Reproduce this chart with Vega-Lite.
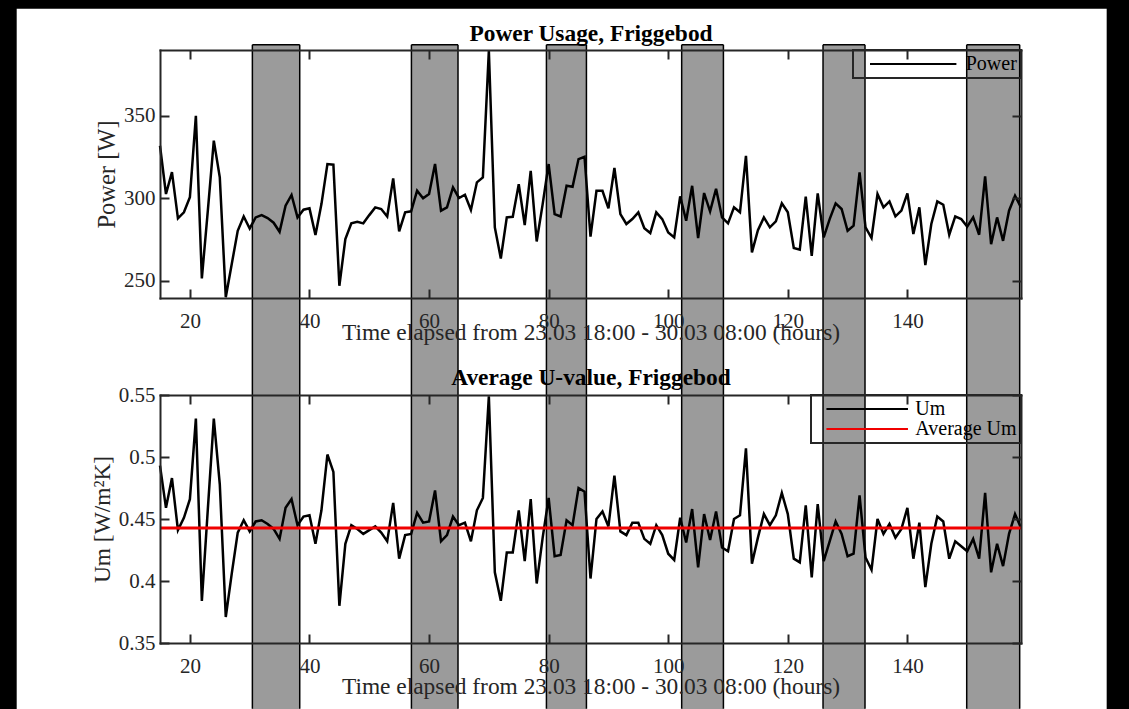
{
  "$schema": "https://vega.github.io/schema/vega-lite/v6.json",
  "background": "black",
  "padding": {"left": 16, "top": 8, "right": 23, "bottom": 0},
  "autosize": {"type": "pad"},
  "bounds": "flush",
  "spacing": 97,
  "resolve": {"scale": {"x": "independent", "y": "independent", "color": "independent"}, "legend": {"color": "independent"}},
  "config": {
    "font": "Liberation Serif",
    "view": {"stroke": null},
    "axis": {
      "domainColor": "#262626", "domainWidth": 2, "domainCap": "square",
      "tickColor": "#262626", "tickWidth": 2, "tickSize": -9,
      "labelColor": "#262626", "labelFont": "Liberation Serif", "labelFontSize": 21,
      "titleColor": "#262626", "titleFont": "Liberation Serif", "titleFontSize": 23.4, "titleFontWeight": "normal",
      "grid": false, "labelFlush": false, "labelOverlap": false
    },
    "legend": {"strokeWidth": 2}
  },
  "datasets": {
    "bands": [
      {"s": 30.45, "e": 38.37},
      {"s": 57.05, "e": 64.84},
      {"s": 79.63, "e": 86.32},
      {"s": 102.25, "e": 109.23},
      {"s": 125.89, "e": 132.91},
      {"s": 149.92, "e": 158.78}
    ],
    "avg": [{"u": 0.4428}],
    "series": [
      {"t": 15, "p": 331.9, "u": 0.493}, {"t": 16, "p": 302.6, "u": 0.459}, {"t": 17, "p": 315.9, "u": 0.483},
      {"t": 18, "p": 287.8, "u": 0.441}, {"t": 19, "p": 291.5, "u": 0.451}, {"t": 20, "p": 300.6, "u": 0.466},
      {"t": 21, "p": 350.1, "u": 0.531}, {"t": 22, "p": 251.4, "u": 0.384}, {"t": 23, "p": 292.5, "u": 0.458},
      {"t": 24, "p": 335.0, "u": 0.531}, {"t": 25, "p": 312.7, "u": 0.478}, {"t": 26, "p": 240.0, "u": 0.371},
      {"t": 27, "p": 260.1, "u": 0.406}, {"t": 28, "p": 280.3, "u": 0.439}, {"t": 29, "p": 289.0, "u": 0.449},
      {"t": 30, "p": 281.7, "u": 0.440}, {"t": 31, "p": 288.4, "u": 0.448}, {"t": 32, "p": 289.8, "u": 0.449},
      {"t": 33, "p": 288.0, "u": 0.446}, {"t": 34, "p": 285.2, "u": 0.442}, {"t": 35, "p": 279.7, "u": 0.434},
      {"t": 36, "p": 295.5, "u": 0.459}, {"t": 37, "p": 302.0, "u": 0.466}, {"t": 38, "p": 288.4, "u": 0.445},
      {"t": 39, "p": 293.1, "u": 0.452}, {"t": 40, "p": 293.9, "u": 0.453}, {"t": 41, "p": 277.7, "u": 0.430},
      {"t": 42, "p": 296.5, "u": 0.457}, {"t": 43, "p": 320.8, "u": 0.502}, {"t": 44, "p": 320.4, "u": 0.488},
      {"t": 45, "p": 246.9, "u": 0.380}, {"t": 46, "p": 275.3, "u": 0.430}, {"t": 47, "p": 284.8, "u": 0.445},
      {"t": 48, "p": 285.8, "u": 0.442}, {"t": 49, "p": 284.8, "u": 0.438}, {"t": 50, "p": 289.8, "u": 0.441},
      {"t": 51, "p": 294.5, "u": 0.444}, {"t": 52, "p": 293.5, "u": 0.439}, {"t": 53, "p": 289.0, "u": 0.432},
      {"t": 54, "p": 312.1, "u": 0.463}, {"t": 55, "p": 279.9, "u": 0.418}, {"t": 56, "p": 291.5, "u": 0.437},
      {"t": 57, "p": 292.1, "u": 0.438}, {"t": 58, "p": 304.6, "u": 0.455}, {"t": 59, "p": 300.0, "u": 0.447},
      {"t": 60, "p": 302.6, "u": 0.448}, {"t": 61, "p": 320.8, "u": 0.473}, {"t": 62, "p": 292.5, "u": 0.432},
      {"t": 63, "p": 294.5, "u": 0.437}, {"t": 64, "p": 306.6, "u": 0.452}, {"t": 65, "p": 300.2, "u": 0.445},
      {"t": 66, "p": 302.2, "u": 0.447}, {"t": 67, "p": 292.9, "u": 0.432}, {"t": 68, "p": 309.7, "u": 0.457},
      {"t": 69, "p": 312.7, "u": 0.467}, {"t": 70, "p": 389.5, "u": 0.549}, {"t": 71, "p": 282.3, "u": 0.407},
      {"t": 72, "p": 263.5, "u": 0.384}, {"t": 73, "p": 288.4, "u": 0.423}, {"t": 74, "p": 288.8, "u": 0.423},
      {"t": 75, "p": 308.6, "u": 0.457}, {"t": 76, "p": 283.8, "u": 0.416}, {"t": 77, "p": 316.7, "u": 0.466},
      {"t": 78, "p": 273.8, "u": 0.398}, {"t": 79, "p": 296.5, "u": 0.435}, {"t": 80, "p": 320.8, "u": 0.467},
      {"t": 81, "p": 290.4, "u": 0.420}, {"t": 82, "p": 289.0, "u": 0.421}, {"t": 83, "p": 307.6, "u": 0.449},
      {"t": 84, "p": 307.0, "u": 0.445}, {"t": 85, "p": 323.8, "u": 0.475}, {"t": 86, "p": 325.2, "u": 0.472},
      {"t": 87, "p": 276.7, "u": 0.402}, {"t": 88, "p": 304.6, "u": 0.450}, {"t": 89, "p": 304.6, "u": 0.456},
      {"t": 90, "p": 293.9, "u": 0.444}, {"t": 91, "p": 318.4, "u": 0.485}, {"t": 92, "p": 290.4, "u": 0.440},
      {"t": 93, "p": 284.4, "u": 0.437}, {"t": 94, "p": 287.4, "u": 0.447}, {"t": 95, "p": 291.5, "u": 0.447},
      {"t": 96, "p": 281.9, "u": 0.434}, {"t": 97, "p": 278.9, "u": 0.430}, {"t": 98, "p": 291.5, "u": 0.445},
      {"t": 99, "p": 287.4, "u": 0.437}, {"t": 100, "p": 279.3, "u": 0.422}, {"t": 101, "p": 276.3, "u": 0.417},
      {"t": 102, "p": 301.2, "u": 0.451}, {"t": 103, "p": 286.4, "u": 0.431}, {"t": 104, "p": 307.6, "u": 0.458},
      {"t": 105, "p": 275.9, "u": 0.411}, {"t": 106, "p": 303.2, "u": 0.454}, {"t": 107, "p": 292.1, "u": 0.433},
      {"t": 108, "p": 305.8, "u": 0.456}, {"t": 109, "p": 288.4, "u": 0.427}, {"t": 110, "p": 284.8, "u": 0.424},
      {"t": 111, "p": 294.5, "u": 0.450}, {"t": 112, "p": 291.5, "u": 0.453}, {"t": 113, "p": 325.8, "u": 0.507},
      {"t": 114, "p": 267.2, "u": 0.414}, {"t": 115, "p": 280.7, "u": 0.435}, {"t": 116, "p": 288.4, "u": 0.454},
      {"t": 117, "p": 282.4, "u": 0.445}, {"t": 118, "p": 286.0, "u": 0.453}, {"t": 119, "p": 296.9, "u": 0.471},
      {"t": 120, "p": 291.5, "u": 0.454}, {"t": 121, "p": 269.8, "u": 0.418}, {"t": 122, "p": 268.8, "u": 0.415},
      {"t": 123, "p": 301.0, "u": 0.461}, {"t": 124, "p": 265.1, "u": 0.403}, {"t": 125, "p": 303.0, "u": 0.462},
      {"t": 126, "p": 276.3, "u": 0.416}, {"t": 127, "p": 287.4, "u": 0.432}, {"t": 128, "p": 296.9, "u": 0.448},
      {"t": 129, "p": 293.5, "u": 0.438}, {"t": 130, "p": 280.3, "u": 0.420}, {"t": 131, "p": 283.4, "u": 0.422},
      {"t": 132, "p": 315.7, "u": 0.469}, {"t": 133, "p": 282.3, "u": 0.419}, {"t": 134, "p": 275.9, "u": 0.409},
      {"t": 135, "p": 302.6, "u": 0.450}, {"t": 136, "p": 294.5, "u": 0.438}, {"t": 137, "p": 298.1, "u": 0.446},
      {"t": 138, "p": 289.0, "u": 0.435}, {"t": 139, "p": 292.5, "u": 0.442}, {"t": 140, "p": 303.0, "u": 0.459},
      {"t": 141, "p": 278.3, "u": 0.418}, {"t": 142, "p": 294.5, "u": 0.447}, {"t": 143, "p": 259.5, "u": 0.395},
      {"t": 144, "p": 284.4, "u": 0.430}, {"t": 145, "p": 298.1, "u": 0.452}, {"t": 146, "p": 296.1, "u": 0.448},
      {"t": 147, "p": 277.9, "u": 0.418}, {"t": 148, "p": 289.0, "u": 0.432}, {"t": 149, "p": 287.4, "u": 0.428},
      {"t": 150, "p": 282.8, "u": 0.424}, {"t": 151, "p": 288.4, "u": 0.434}, {"t": 152, "p": 277.9, "u": 0.418},
      {"t": 153, "p": 313.3, "u": 0.471}, {"t": 154, "p": 272.2, "u": 0.407}, {"t": 155, "p": 288.4, "u": 0.430},
      {"t": 156, "p": 274.2, "u": 0.412}, {"t": 157, "p": 292.5, "u": 0.438}, {"t": 158, "p": 301.6, "u": 0.454},
      {"t": 159, "p": 294.5, "u": 0.443}
    ]
  },
  "vconcat": [
    {
      "width": 861,
      "height": 248,
      "resolve": {"axis": {"x": "independent", "y": "independent"}},
      "layer": [
        {
          "data": {"values": [{}]},
          "mark": {"type": "rect", "fill": "#ffffff"},
          "encoding": {
            "x": {"datum": -8.9665, "type": "quantitative", "scale": {"domain": [15, 159], "nice": false, "zero": false}, "axis": null},
            "x2": {"datum": 173.33},
            "y": {"datum": 415.06, "type": "quantitative", "scale": {"domain": [239.5, 390], "nice": false, "zero": false}, "axis": null},
            "y2": {"datum": -10.34}
          }
        },
        {
          "data": {"name": "bands"},
          "mark": {"type": "rect", "fill": "#9b9b9b"},
          "encoding": {
            "x": {"field": "s", "type": "quantitative", "scale": {"domain": [15, 159], "nice": false, "zero": false}, "axis": null},
            "x2": {"field": "e"},
            "y": {"datum": 393.216, "type": "quantitative", "scale": {"domain": [239.5, 390], "nice": false, "zero": false}, "axis": null},
            "y2": {"datum": -10.33}
          }
        },
        {
          "data": {"name": "bands"},
          "mark": {"type": "rule", "stroke": "#000000", "strokeWidth": 1.5},
          "encoding": {
            "x": {"field": "s", "type": "quantitative", "scale": {"domain": [15, 159], "nice": false, "zero": false}, "axis": null},
            "y": {"datum": 393.216, "type": "quantitative", "scale": {"domain": [239.5, 390], "nice": false, "zero": false}, "axis": null},
            "y2": {"datum": -9.74}
          }
        },
        {
          "data": {"name": "bands"},
          "mark": {"type": "rule", "stroke": "#000000", "strokeWidth": 1.5},
          "encoding": {
            "x": {"field": "e", "type": "quantitative", "scale": {"domain": [15, 159], "nice": false, "zero": false}, "axis": null},
            "y": {"datum": 393.216, "type": "quantitative", "scale": {"domain": [239.5, 390], "nice": false, "zero": false}, "axis": null},
            "y2": {"datum": -9.74}
          }
        },
        {
          "data": {"name": "bands"},
          "mark": {"type": "rule", "stroke": "#000000", "strokeWidth": 1.5},
          "encoding": {
            "x": {"field": "s", "type": "quantitative", "scale": {"domain": [15, 159], "nice": false, "zero": false},
                  "axis": {"orient": "top", "values": [20, 40, 60, 80, 100, 120, 140], "labels": false, "zindex": 1,
                           "title": "Power Usage, Friggebod", "titleFontWeight": "bold", "titleColor": "#000000", "titleFontSize": 23.4, "titleBaseline": "alphabetic", "titlePadding": 8.6}},
            "x2": {"field": "e"},
            "y": {"datum": 393.216, "type": "quantitative", "scale": {"domain": [239.5, 390], "nice": false, "zero": false},
                  "axis": {"orient": "right", "values": [250, 300, 350], "labels": false, "title": null, "zindex": 1}}
          }
        },
        {
          "data": {"name": "series"},
          "mark": {"type": "line", "strokeWidth": 2.5},
          "encoding": {
            "x": {"field": "t", "type": "quantitative", "scale": {"domain": [15, 159], "nice": false, "zero": false},
                  "axis": {"orient": "bottom", "values": [20, 40, 60, 80, 100, 120, 140], "title": "Time elapsed from 23.03 18:00 - 30.03 08:00 (hours)", "labelPadding": 21, "titlePadding": -9.5, "zindex": 1}},
            "y": {"field": "p", "type": "quantitative", "scale": {"domain": [239.5, 390], "nice": false, "zero": false},
                  "axis": {"orient": "left", "values": [250, 300, 350], "title": "Power [W]", "titleFontSize": 24.5, "labelPadding": 14, "titlePadding": 4, "zindex": 1}},
            "color": {"datum": "Power", "type": "nominal", "scale": {"domain": ["Power"], "range": ["#000000"]},
                      "legend": {"title": null, "orient": "top-right", "offset": 0, "padding": 4, "symbolType": "M-4.8,0H4.8", "symbolSize": 324, "symbolOffset": 46.2, "symbolStrokeWidth": 2, "labelFont": "Liberation Serif", "labelFontSize": 20, "labelOffset": 42.5, "labelColor": "#000000", "strokeColor": "#262626", "zindex": 1}}
          }
        }
      ]
    },
    {
      "width": 861,
      "height": 248,
      "resolve": {"axis": {"x": "independent", "y": "independent"}},
      "layer": [
        {
          "data": {"name": "series"},
          "mark": {"type": "line", "strokeWidth": 2.5},
          "encoding": {
            "x": {"field": "t", "type": "quantitative", "scale": {"domain": [15, 159], "nice": false, "zero": false},
                  "axis": {"orient": "bottom", "values": [20, 40, 60, 80, 100, 120, 140], "title": "Time elapsed from 23.03 18:00 - 30.03 08:00 (hours)", "labelPadding": 21, "titlePadding": -0.5, "zindex": 1}},
            "y": {"field": "u", "type": "quantitative", "scale": {"domain": [0.35, 0.55], "nice": false, "zero": false},
                  "axis": {"orient": "left", "values": [0.35, 0.4, 0.45, 0.5, 0.55], "format": "~g", "title": "Um [W/m²K]", "labelPadding": 14, "titlePadding": 4, "zindex": 1}},
            "color": {"datum": "Um", "type": "nominal", "scale": {"domain": ["Um", "Average Um"], "range": ["#000000", "#f00000"]},
                      "legend": {"title": null, "orient": "top-right", "offset": 0, "padding": 4, "symbolType": "M-4.53,0H4.53", "symbolSize": 324, "symbolOffset": 42.2, "symbolStrokeWidth": 2, "labelFont": "Liberation Serif", "labelFontSize": 20, "labelOffset": 38.1, "labelColor": "#000000", "strokeColor": "#262626", "rowPadding": 0, "zindex": 1}}
          }
        },
        {
          "data": {"name": "avg"},
          "mark": {"type": "rule", "strokeWidth": 3},
          "encoding": {
            "x": {"datum": 15, "type": "quantitative", "scale": {"domain": [15, 159], "nice": false, "zero": false},
                  "axis": {"orient": "top", "values": [20, 40, 60, 80, 100, 120, 140], "labels": false, "zindex": 1,
                           "title": "Average U-value, Friggebod", "titleFontWeight": "bold", "titleColor": "#000000", "titleFontSize": 23.4, "titleBaseline": "alphabetic", "titlePadding": 9.3}},
            "x2": {"datum": 159},
            "y": {"field": "u", "type": "quantitative", "scale": {"domain": [0.35, 0.55], "nice": false, "zero": false},
                  "axis": {"orient": "right", "values": [0.35, 0.4, 0.45, 0.5, 0.55], "labels": false, "title": null, "zindex": 1}},
            "color": {"datum": "Average Um", "type": "nominal"}
          }
        }
      ]
    }
  ]
}
